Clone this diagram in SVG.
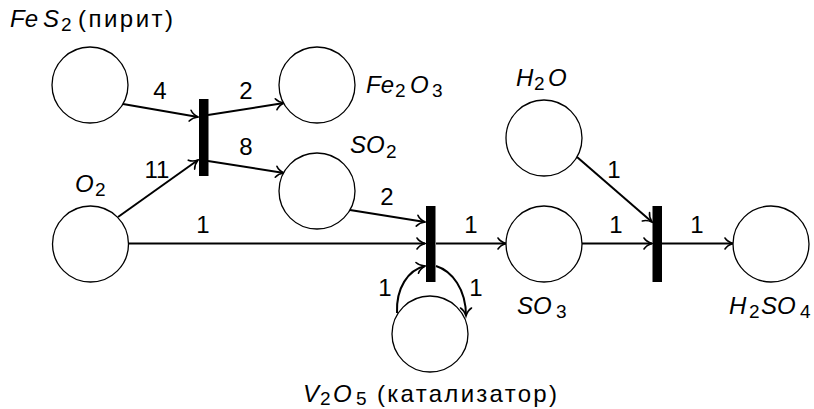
<svg xmlns="http://www.w3.org/2000/svg" width="814" height="409" viewBox="0 0 814 409">
<defs>
<marker id="arr" viewBox="-10 -7 12 14" markerWidth="12" markerHeight="14" refX="0" refY="0" orient="auto" markerUnits="userSpaceOnUse" overflow="visible">
<path d="M-8,-5.5 C-6,-2.5 -2,-0.6 0,0 C-2,0.6 -6,2.5 -8,5.5" fill="none" stroke="#000" stroke-width="1.6" stroke-linecap="round"/>
</marker>
<style>
.place{fill:#fff;stroke:#000;stroke-width:1.3}
.trans{fill:#000;stroke:none}
.arc{fill:none;stroke:#000;stroke-width:2;marker-end:url(#arr)}
text{font-family:"Liberation Sans","DejaVu Sans",sans-serif;font-size:24px;fill:#000}
.w{text-anchor:middle}
.it{font-style:italic}
.sub{font-size:19px;font-style:normal}
</style>
</defs>
<rect width="814" height="409" fill="#fff"/>
<g id="connectors">
<path class="arc" d="M123,104 L198,117"/>
<path class="arc" d="M118,217 L198,160"/>
<path class="arc" d="M208,115 L284,103"/>
<path class="arc" d="M208,161 L284,173"/>
<path class="arc" d="M128,243.5 L425,243.5"/>
<path class="arc" d="M350,210 L425,222"/>
<path class="arc" d="M436,243.5 L506,243.5"/>
<path class="arc" d="M397,313 C396,288 408,270 425,266"/>
<path class="arc" d="M436,266 C452,271 466,289 466,316"/>
<path class="arc" d="M577,157 L652,222"/>
<path class="arc" d="M582,243.5 L652,243.5"/>
<path class="arc" d="M662,243.5 L733,243.5"/>
<text class="w" x="160" y="99">4</text>
<text class="w" x="246" y="99">2</text>
<text class="w" x="246" y="155">8</text>
<text class="w" x="157" y="178">11</text>
<text class="w" x="203" y="233">1</text>
<text class="w" x="387" y="205">2</text>
<text class="w" x="471" y="233">1</text>
<text class="w" x="385" y="296">1</text>
<text class="w" x="476" y="296">1</text>
<text class="w" x="614" y="178">1</text>
<text class="w" x="616" y="233">1</text>
<text class="w" x="697" y="233">1</text>
</g>
<g id="p-FeS2">
<circle class="place" cx="90" cy="85" r="38"/>
<text x="10" y="27"><tspan class="it">Fe</tspan><tspan class="it" x="43">S</tspan><tspan class="sub" x="61" y="31">2</tspan><tspan x="78" y="27" textLength="95" lengthAdjust="spacing">(пирит)</tspan></text>
</g>
<g id="p-O2">
<circle class="place" cx="90.5" cy="244" r="38"/>
<text x="75" y="192"><tspan class="it">O</tspan><tspan class="sub" x="95" y="196">2</tspan></text>
</g>
<g id="p-Fe2O3">
<circle class="place" cx="317" cy="85" r="38"/>
<text x="366" y="93"><tspan class="it">Fe</tspan><tspan class="sub" x="395" y="97">2</tspan><tspan class="it" x="410" y="93">O</tspan><tspan class="sub" x="432" y="97">3</tspan></text>
</g>
<g id="p-SO2">
<circle class="place" cx="317" cy="191" r="38"/>
<text x="350" y="153"><tspan class="it">SO</tspan><tspan class="sub" x="386" y="158">2</tspan></text>
</g>
<g id="p-V2O5">
<circle class="place" cx="430" cy="334" r="38"/>
<text x="303" y="402"><tspan class="it">V</tspan><tspan class="sub" x="320" y="405">2</tspan><tspan class="it" x="333" y="402">O</tspan><tspan class="sub" x="356" y="405">5</tspan><tspan x="377" y="402" textLength="180" lengthAdjust="spacing">(катализатор)</tspan></text>
</g>
<g id="p-SO3">
<circle class="place" cx="544" cy="244" r="38"/>
<text x="517" y="314"><tspan class="it">SO</tspan><tspan class="sub" x="556" y="318">3</tspan></text>
</g>
<g id="p-H2O">
<circle class="place" cx="544" cy="138" r="38"/>
<text x="516" y="86"><tspan class="it">H</tspan><tspan class="sub" x="534" y="90">2</tspan><tspan class="it" x="548" y="86">O</tspan></text>
</g>
<g id="p-H2SO4">
<circle class="place" cx="771" cy="244" r="38"/>
<text x="729" y="314"><tspan class="it">H</tspan><tspan class="sub" x="749" y="318">2</tspan><tspan class="it" x="761" y="314">SO</tspan><tspan class="sub" x="800" y="318">4</tspan></text>
</g>
<g id="t1"><rect class="trans" x="199" y="99" width="9.5" height="77"/></g>
<g id="t2"><rect class="trans" x="426" y="206" width="9.5" height="76"/></g>
<g id="t3"><rect class="trans" x="652.5" y="206" width="9.5" height="76"/></g>
</svg>
